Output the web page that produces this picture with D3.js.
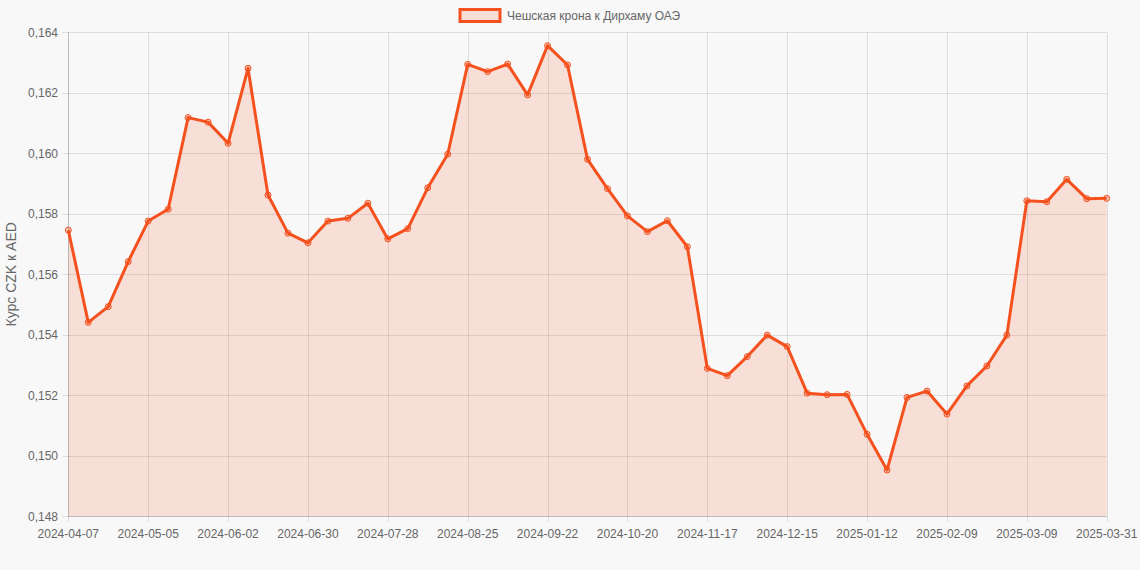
<!DOCTYPE html>
<html>
<head>
<meta charset="utf-8">
<script src="https://cdn.jsdelivr.net/npm/d3@7"></script>
<style>
  html, body { margin: 0; padding: 0; background: #f8f8f8; }
  svg { display: block; font-family: "Liberation Sans", Arial, sans-serif; }
</style>
</head>
<body>
<svg id="chart" width="1140" height="570"></svg>
<script>
const dates = [
  "2024-04-07","2024-04-14","2024-04-21","2024-04-28","2024-05-05","2024-05-12","2024-05-19","2024-05-26",
  "2024-06-02","2024-06-09","2024-06-16","2024-06-23","2024-06-30","2024-07-07","2024-07-14","2024-07-21",
  "2024-07-28","2024-08-04","2024-08-11","2024-08-18","2024-08-25","2024-09-01","2024-09-08","2024-09-15",
  "2024-09-22","2024-09-29","2024-10-06","2024-10-13","2024-10-20","2024-10-27","2024-11-03","2024-11-10",
  "2024-11-17","2024-11-24","2024-12-01","2024-12-08","2024-12-15","2024-12-22","2024-12-29","2025-01-05",
  "2025-01-12","2025-01-19","2025-01-26","2025-02-02","2025-02-09","2025-02-16","2025-02-23","2025-03-02",
  "2025-03-09","2025-03-16","2025-03-23","2025-03-30","2025-03-31"
];
const rates = [
  0.15746, 0.15441, 0.15493, 0.15642, 0.15776, 0.15815, 0.16118, 0.16103,
  0.16033, 0.16281, 0.15862, 0.15736, 0.15704, 0.15776, 0.15785, 0.15835,
  0.15717, 0.15751, 0.15886, 0.15997, 0.16294, 0.16270, 0.16295, 0.16193,
  0.16356, 0.16292, 0.15980, 0.15883, 0.15793, 0.15741, 0.15777, 0.15691,
  0.15289, 0.15265, 0.15328, 0.15399, 0.15361, 0.15207, 0.15202, 0.15203,
  0.15071, 0.14953, 0.15193, 0.15214, 0.15138, 0.15231, 0.15297, 0.15399,
  0.15843, 0.15840, 0.15914, 0.15850, 0.15851
];
const xTickLabels = ["2024-04-07","2024-05-05","2024-06-02","2024-06-30","2024-07-28","2024-08-25","2024-09-22",
  "2024-10-20","2024-11-17","2024-12-15","2025-01-12","2025-02-09","2025-03-09","2025-03-31"];
const yTicks = [0.148, 0.150, 0.152, 0.154, 0.156, 0.158, 0.160, 0.162, 0.164];
const seriesName = "Чешская крона к Дирхаму ОАЭ";
const yTitle = "Курс CZK к AED";

const lineColor = "#f4511e";
const fillColor = "rgba(244,81,30,0.15)";
const textColor = "#666";

const svg = d3.select("#chart");
const m = { left: 68.3, right: 1106.7, top: 32.3, bottom: 516.3 };

const x = d3.scalePoint().domain(dates).range([m.left, m.right]);
const y = d3.scaleLinear().domain([0.148, 0.164]).range([m.bottom, m.top]);

const fmt = v => d3.format(".3f")(v).replace(".", ",");

// grid
const g = svg.append("g");
g.selectAll(".hg").data(yTicks).enter().append("line")
  .attr("x1", m.left - 6).attr("x2", m.right)
  .attr("y1", d => Math.round(y(d)) + 0.5).attr("y2", d => Math.round(y(d)) + 0.5)
  .attr("stroke", "rgba(0,0,0,0.1)").attr("stroke-width", 1);
g.selectAll(".vg").data(xTickLabels).enter().append("line")
  .attr("x1", d => Math.round(x(d)) + 0.5).attr("x2", d => Math.round(x(d)) + 0.5)
  .attr("y1", m.top).attr("y2", m.bottom + 6)
  .attr("stroke", "rgba(0,0,0,0.1)").attr("stroke-width", 1);
// axis borders
g.append("line").attr("x1", Math.round(m.left) + 0.5).attr("x2", Math.round(m.left) + 0.5)
  .attr("y1", m.top).attr("y2", m.bottom).attr("stroke", "rgba(0,0,0,0.15)");
g.append("line").attr("x1", m.left).attr("x2", m.right)
  .attr("y1", Math.round(m.bottom) + 0.5).attr("y2", Math.round(m.bottom) + 0.5).attr("stroke", "rgba(0,0,0,0.15)");

// area + line
const area = d3.area().x((d, i) => x(dates[i])).y0(y(0.148)).y1(d => y(d));
const line = d3.line().x((d, i) => x(dates[i])).y(d => y(d));
svg.append("path").datum(rates).attr("d", area).attr("fill", fillColor);
svg.append("path").datum(rates).attr("d", line).attr("fill", "none")
  .attr("stroke", lineColor).attr("stroke-width", 3).attr("stroke-linejoin", "round");
svg.selectAll(".pt").data(rates).enter().append("circle")
  .attr("cx", (d, i) => x(dates[i])).attr("cy", d => y(d)).attr("r", 3)
  .attr("fill", "rgba(244,81,30,0.25)").attr("stroke", lineColor).attr("stroke-width", 1);

// y tick labels
svg.selectAll(".yl").data(yTicks).enter().append("text")
  .attr("x", 58).attr("y", d => y(d)).attr("dy", "0.35em")
  .attr("text-anchor", "end").attr("font-size", 12).attr("fill", textColor)
  .text(fmt);
// x tick labels
svg.selectAll(".xl").data(xTickLabels).enter().append("text")
  .attr("x", d => x(d)).attr("y", 538)
  .attr("text-anchor", "middle").attr("font-size", 12).attr("fill", textColor)
  .text(d => d);
// y title
svg.append("text").attr("transform", `translate(16,${(m.top + m.bottom) / 2}) rotate(-90)`)
  .attr("text-anchor", "middle").attr("font-size", 14).attr("fill", textColor).text(yTitle);

// legend
svg.append("rect").attr("x", 460).attr("y", 9.5).attr("width", 40).attr("height", 12)
  .attr("fill", fillColor).attr("stroke", lineColor).attr("stroke-width", 3);
svg.append("text").attr("x", 507).attr("y", 15.5).attr("dy", "0.35em")
  .attr("font-size", 12).attr("fill", textColor).text(seriesName);
</script>
</body>
</html>
